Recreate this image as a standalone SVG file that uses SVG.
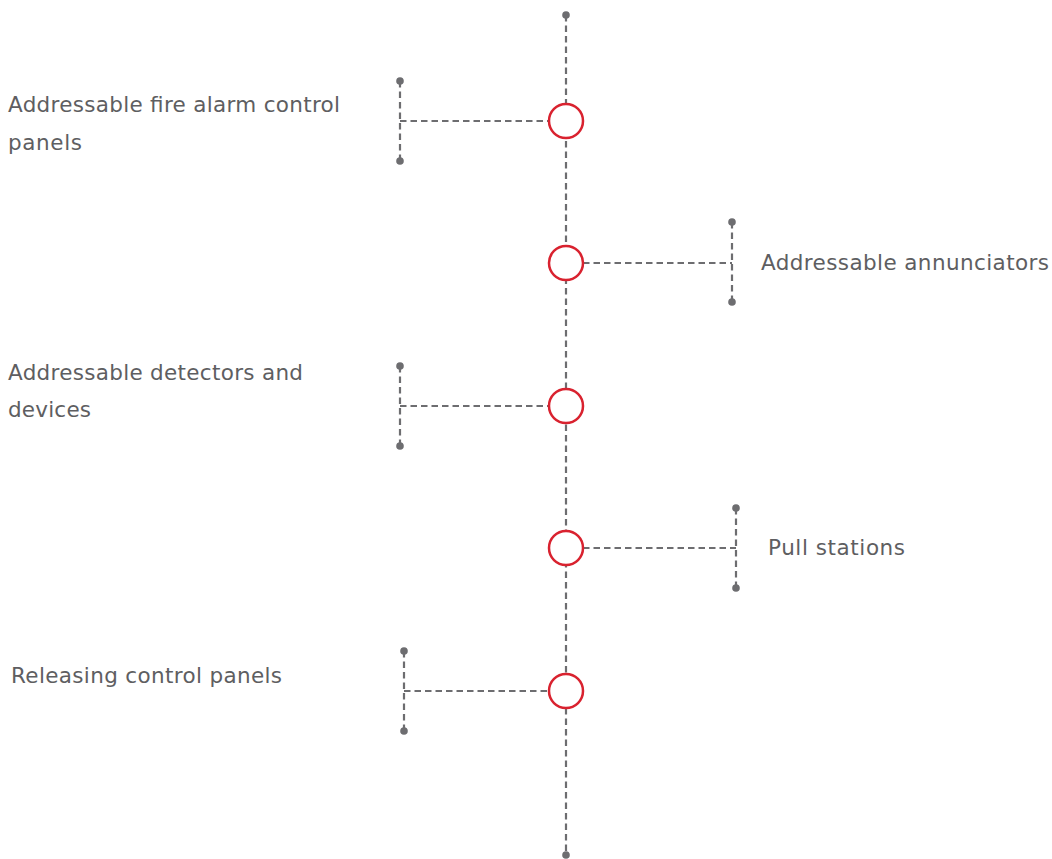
<svg xmlns="http://www.w3.org/2000/svg" width="1052" height="859" viewBox="0 0 1052 859">
<style>
.d{stroke:#6d6d70;stroke-width:2.2;stroke-dasharray:6.5 4;fill:none}
.dot{fill:#6d6d70}
.c{fill:#fff;stroke:#d9222f;stroke-width:2.5}
.t{font-family:"DejaVu Sans","Liberation Sans",Arial,sans-serif;font-size:21.5px;fill:#5e5e61}
</style>
<rect width="1052" height="859" fill="#fff"/>
<g id="connectors">
<line class="d" x1="566" y1="15" x2="566" y2="855"/>
<line class="d" x1="400" y1="81" x2="400" y2="161"/>
<line class="d" x1="400" y1="121" x2="549" y2="121"/>
<line class="d" x1="732" y1="222" x2="732" y2="302"/>
<line class="d" x1="583" y1="263" x2="732" y2="263"/>
<line class="d" x1="400" y1="366" x2="400" y2="446"/>
<line class="d" x1="400" y1="406" x2="549" y2="406"/>
<line class="d" x1="736" y1="508" x2="736" y2="588"/>
<line class="d" x1="583" y1="548" x2="736" y2="548"/>
<line class="d" x1="404" y1="651" x2="404" y2="731"/>
<line class="d" x1="404" y1="691" x2="549" y2="691"/>
<circle class="dot" cx="566" cy="15" r="3.8"/>
<circle class="dot" cx="566" cy="855" r="3.8"/>
<circle class="dot" cx="400" cy="81" r="3.8"/>
<circle class="dot" cx="400" cy="161" r="3.8"/>
<circle class="dot" cx="732" cy="222" r="3.8"/>
<circle class="dot" cx="732" cy="302" r="3.8"/>
<circle class="dot" cx="400" cy="366" r="3.8"/>
<circle class="dot" cx="400" cy="446" r="3.8"/>
<circle class="dot" cx="736" cy="508" r="3.8"/>
<circle class="dot" cx="736" cy="588" r="3.8"/>
<circle class="dot" cx="404" cy="651" r="3.8"/>
<circle class="dot" cx="404" cy="731" r="3.8"/>
</g>
<g id="node1"><circle class="c" cx="566" cy="121" r="17"/><text class="t" x="8" y="112" textLength="332">Addressable fire alarm control</text><text class="t" x="8" y="150" textLength="74">panels</text></g>
<g id="node2"><circle class="c" cx="566" cy="263" r="17"/><text class="t" x="761" y="270" textLength="288">Addressable annunciators</text></g>
<g id="node3"><circle class="c" cx="566" cy="406" r="17"/><text class="t" x="8" y="380" textLength="295">Addressable detectors and</text><text class="t" x="8" y="417" textLength="83">devices</text></g>
<g id="node4"><circle class="c" cx="566" cy="548" r="17"/><text class="t" x="768" y="555" textLength="137">Pull stations</text></g>
<g id="node5"><circle class="c" cx="566" cy="691" r="17"/><text class="t" x="11" y="683" textLength="271">Releasing control panels</text></g>
</svg>
